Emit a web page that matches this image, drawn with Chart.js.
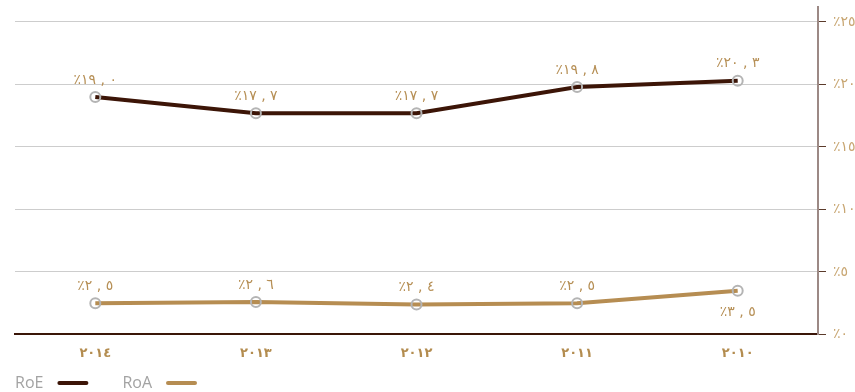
<!DOCTYPE html>
<html>
<head>
<meta charset="utf-8">
<script src="https://cdn.jsdelivr.net/npm/chart.js@4/dist/chart.umd.min.js"></script>
<style>
  html, body { margin: 0; padding: 0; background: #ffffff; overflow: hidden; }
  #wrap { width: 870px; height: 392px; position: relative; }
</style>
</head>
<body>
<div id="wrap"><canvas id="c"></canvas></div>
<script>
// Years, newest first
const years = ['٢٠١٤', '٢٠١٣', '٢٠١٢', '٢٠١١', '٢٠١٠'];
// Return on equity (%)
const roe = [19.0, 17.7, 17.7, 19.8, 20.3];
// Return on assets (%)
const roa = [2.5, 2.6, 2.4, 2.5, 3.5];
// Where each value label sits relative to its point
const roeLabelSide = ['above', 'above', 'above', 'above', 'above'];
const roaLabelSide = ['above', 'above', 'above', 'above', 'below'];
// Percentage ticks on the right-hand axis
const yTickValues = [0, 5, 10, 15, 20, 25];

const AR_DIGITS = '٠١٢٣٤٥٦٧٨٩';
const toArabic = s => String(s).replace(/\d/g, d => AR_DIGITS[d]);
// Left-to-right override keeps "٪١٩ , ٠" in reading order
const pctLabel = v => '\u202D٪' + toArabic(v.toFixed(1)).replace('.', ' , ') + '\u202C';

const LABEL_COLOR = '#b68f55';
const ARABIC_FONT = 'DejaVu Sans';

// Value labels drawn above/below each point
const valueLabels = {
  id: 'valueLabels',
  afterDatasetsDraw(chart) {
    const ctx = chart.ctx;
    ctx.save();
    ctx.font = '14px "' + ARABIC_FONT + '"';
    ctx.fillStyle = LABEL_COLOR;
    ctx.textAlign = 'center';
    ctx.textBaseline = 'middle';
    ctx.direction = 'ltr';
    chart.data.datasets.forEach((ds, di) => {
      const meta = chart.getDatasetMeta(di);
      meta.data.forEach((pt, i) => {
        const side = ds.labelSide[i];
        const dy = side === 'below' ? 22 : -17;
        ctx.fillText(pctLabel(ds.data[i]), pt.x, pt.y + dy);
      });
    });
    ctx.restore();
  }
};

// Key along the bottom edge: name followed by a line sample
const bottomKey = {
  id: 'bottomKey',
  afterDraw(chart) {
    const ctx = chart.ctx;
    ctx.save();
    ctx.font = '16px "Open Sans"';
    ctx.textBaseline = 'middle';
    ctx.textAlign = 'left';
    let x = chart.chartArea.left;
    const y = 383;
    chart.data.datasets.forEach(ds => {
      ctx.fillStyle = '#a3a3a3';
      ctx.fillText(ds.label, x, y);
      const w = ctx.measureText(ds.label).width;
      const x0 = x + w + 16;
      const x1 = x0 + 27;
      ctx.strokeStyle = ds.borderColor;
      ctx.lineWidth = 4;
      ctx.lineCap = 'round';
      ctx.beginPath();
      ctx.moveTo(x0, y);
      ctx.lineTo(x1, y);
      ctx.stroke();
      x = x1 + 36;
    });
    ctx.restore();
  }
};

const pointStyle = {
  pointRadius: 5,
  pointHoverRadius: 5,
  pointBorderWidth: 2,
  pointBorderColor: '#b4b4b4',
  pointBackgroundColor: 'rgba(255,255,255,0)',
  borderWidth: 4,
  tension: 0,
  fill: false
};

new Chart(document.getElementById('c'), {
  type: 'line',
  data: {
    labels: years,
    datasets: [
      Object.assign({ label: 'RoE', data: roe, borderColor: '#3c1507', labelSide: roeLabelSide }, pointStyle),
      Object.assign({ label: 'RoA', data: roa, borderColor: '#b68d52', labelSide: roaLabelSide }, pointStyle)
    ]
  },
  options: {
    responsive: true,
    maintainAspectRatio: false,
    animation: false,
    layout: { padding: { left: 15, top: 7, right: 0, bottom: 20 } },
    plugins: {
      legend: { display: false },
      tooltip: { enabled: false }
    },
    scales: {
      x: {
        offset: true,
        grid: { display: false, drawTicks: false },
        border: { color: '#3a1608', width: 2 },
        ticks: {
          color: '#b38c4f',
          padding: 11,
          font: { family: ARABIC_FONT, size: 13, weight: 'bold' }
        }
      },
      y: {
        position: 'right',
        min: 0,
        max: 26.2,
        afterBuildTicks: s => { s.ticks = yTickValues.map(v => ({ value: v })); },
        afterFit: s => { s.width = 52; s.paddingTop = 0; s.paddingBottom = 0; },
        grid: {
          color: c => (c.tick && c.tick.value === 0) ? 'rgba(0,0,0,0)' : '#cdcdcd',
          tickColor: '#5b3b2b',
          tickLength: 8,
          lineWidth: 1
        },
        border: { color: '#9c8985', width: 2 },
        ticks: {
          color: '#c8a672',
          padding: 7,
          font: { family: ARABIC_FONT, size: 14 },
          callback: v => '٪' + toArabic(v)
        }
      }
    }
  },
  plugins: [valueLabels, bottomKey]
});
</script>
</body>
</html>
